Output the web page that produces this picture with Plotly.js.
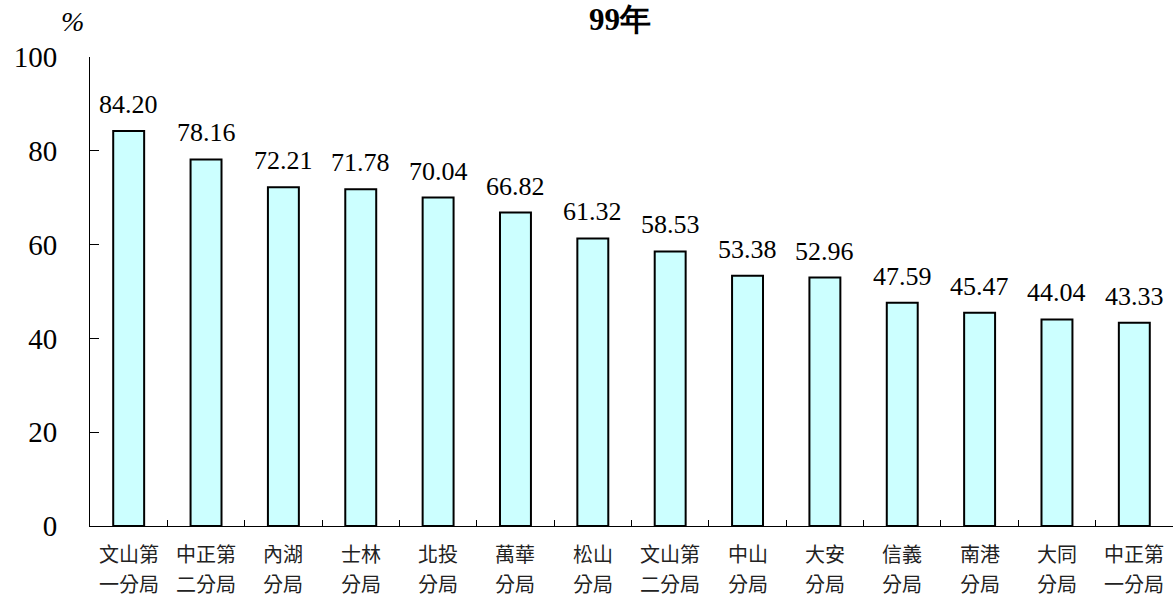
<!DOCTYPE html>
<html><head><meta charset="utf-8">
<script src="https://cdn.plot.ly/plotly-3.0.1.min.js"></script>
<style>html,body{margin:0;padding:0;background:#fff}</style>
</head><body><div id="chart" style="width:1176px;height:598px"></div>
<script>
const categories = ["文山第<br>一分局","中正第<br>二分局","內湖<br>分局","士林<br>分局","北投<br>分局","萬華<br>分局","松山<br>分局","文山第<br>二分局","中山<br>分局","大安<br>分局","信義<br>分局","南港<br>分局","大同<br>分局","中正第<br>一分局"];
const values = [84.20,78.16,72.21,71.78,70.04,66.82,61.32,58.53,53.38,52.96,47.59,45.47,44.04,43.33];
const yTicks = [0,20,40,60,80,100];

const serif = "Liberation Serif, Times New Roman, serif";
const cjk = "Noto Sans CJK TC";
const trace = {
  type: "bar", x: categories, y: values,
  marker: {color: "#ccffff", line: {color: "#000", width: 2}},
  cliponaxis: false, hoverinfo: "none"
};
const anns = [];
categories.forEach((c, k) => {
  anns.push({text: values[k].toFixed(2), x: c, xref: "x", y: values[k], yref: "y",
    xanchor: "center", yanchor: "bottom", yshift: 10, showarrow: false,
    font: {family: serif, size: 26, color: "#000"}});
  const parts = c.split("<br>");
  parts.forEach((p, i) => {
    anns.push({text: p, x: c, xref: "x", y: -0.058 - i * 0.064, yref: "paper",
      xanchor: "center", yanchor: "middle", showarrow: false,
      font: {family: cjk, size: 20, color: "#222"}});
  });
});
anns.push({text: "<b>99</b><b>年</b>", xref: "paper", x: 0.489, yref: "paper", y: 1.081, yanchor: "middle", xanchor: "center",
   showarrow: false, font: {family: serif, size: 31, color: "#000"}});
anns.push({text: "<i>%</i>", xref: "paper", x: -0.016, xanchor: "center", yref: "paper", y: 1.075, yanchor: "middle",
   showarrow: false, font: {family: serif, size: 28, color: "#000"}});

const layout = {
  width: 1176, height: 598,
  margin: {l: 90, r: 3, t: 57, b: 72},
  paper_bgcolor: "#fff", plot_bgcolor: "#fff",
  bargap: 0.6, showlegend: false,
  xaxis: {
    type: "category", showline: true, linecolor: "#000", linewidth: 1,
    ticks: "inside", tickson: "boundaries", ticklen: 6, tickcolor: "#000",
    showticklabels: false, showgrid: false, zeroline: false
  },
  yaxis: {
    range: [0, 100], tickvals: yTicks, showline: true, linecolor: "#000", linewidth: 1,
    ticks: "inside", ticklen: 9, tickcolor: "#000", showgrid: false, zeroline: false,
    tickfont: {family: serif, size: 29, color: "#000"}, ticklabelstandoff: 26
  },
  annotations: anns
};
Plotly.newPlot("chart", [trace], layout, {displayModeBar: false, staticPlot: true});
</script></body></html>
